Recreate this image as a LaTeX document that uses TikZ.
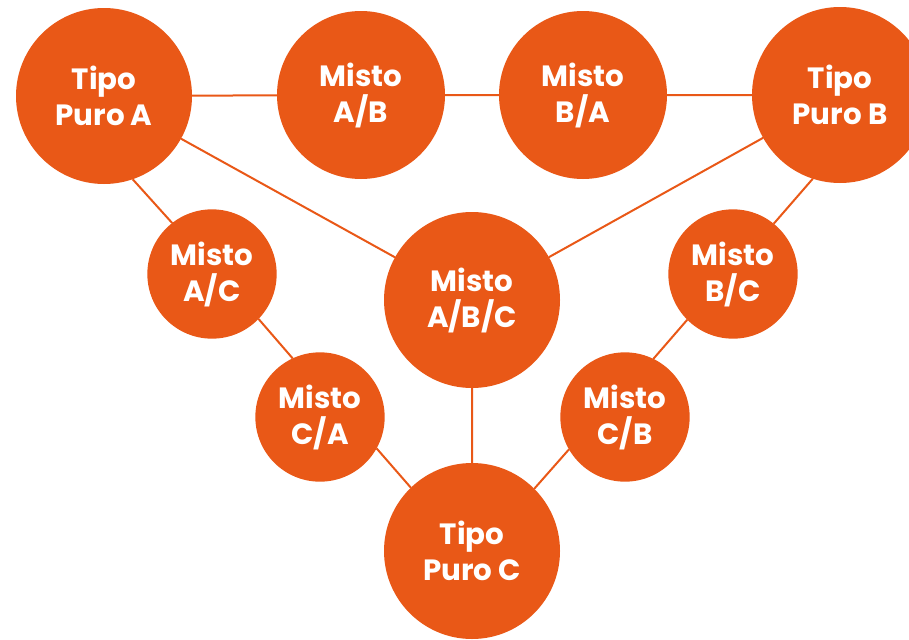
\documentclass[tikz,border=0pt]{standalone}
\usepackage{fontspec}
\setmainfont{Poppins}
\usetikzlibrary{positioning}
\usepackage{xcolor}
\definecolor{Laranja}{RGB}{233,88,23}
\tikzset{
  tipo/.style={circle,fill=Laranja,text=white,align=center,inner sep=0pt,
               outer sep=0pt,font=\fontsize{22}{27}\selectfont\bfseries},
  puro/.style={tipo,minimum size=132pt},
  misto/.style={tipo,minimum size=126pt},
  mistop/.style={tipo,minimum size=97pt},
  liga/.style={Laranja,line width=1.5pt},
}

\begin{document}
\begin{tikzpicture}[x=0.75pt,y=-0.75pt]
  \useasboundingbox (0,0) rectangle (909,639);
  \clip (0,0) rectangle (909,639);
  % tipos puros
  \node[puro] (pa) at (104,96) {Tipo\\Puro A};
  \node[puro] (pb) at (840,95) {Tipo\\Puro B};
  \node[puro] (pc) at (472,551) {Tipo\\Puro C};
  % mistos
  \node[misto] (ab) at (361,95) {Misto\\A/B};
  \node[misto] (ba) at (583,95) {Misto\\B/A};
  \node[puro] (abc) at (472,300) {Misto\\A/B/C};
  \node[mistop] (ac) at (212,274) {Misto\\A/C};
  \node[mistop] (ca) at (320,417) {Misto\\C/A};
  \node[mistop] (bc) at (733,274) {Misto\\B/C};
  \node[mistop] (cb) at (625,417) {Misto\\C/B};
  % ligacoes
  \draw[liga] (pa) -- (ab) (ab) -- (ba) (ba) -- (pb);
  \draw[liga] (pa) -- (abc) (pb) -- (abc) (abc) -- (pc);
  % lado A/C (uma reta so)
  \draw[liga] (pa.-71.6) -- (ac.128.9) (ac.-44.7) -- (ca.115.4)
              (ca.-29.4) -- (pc.134.5);
  % lado B/C
  \draw[liga] (pb.-108.4) -- (bc.51.1) (bc.-135.3) -- (cb.64.6)
              (cb.-150.6) -- (pc.45.5);
\end{tikzpicture}
\end{document}
